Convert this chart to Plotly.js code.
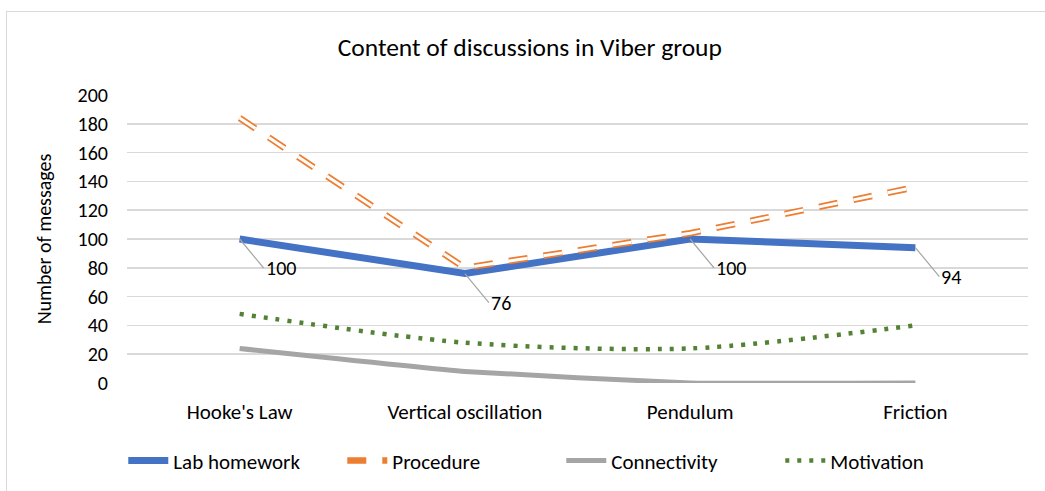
<!DOCTYPE html>
<html>
<head>
<meta charset="utf-8">
<script src="https://cdn.plot.ly/plotly-3.0.1.min.js"></script>
<style>
  html, body { margin: 0; padding: 0; background: #fff; overflow: hidden; }
  #frame { position: absolute; left: 6px; top: 11px; width: 1100px; height: 600px; border: 1px solid #d9d9d9; box-sizing: border-box; }
  #chart { position: absolute; left: 0; top: 0; width: 1045px; height: 491px; }
</style>
</head>
<body>
<div id="frame"></div>
<div id="chart"></div>
<script>
const categories = ["Hooke's Law", "Vertical oscillation", "Pendulum", "Friction"];
const labHomework = [100, 76, 100, 94];
const procedure = [184, 80, 104, 136];
const connectivity = [24, 8, 0, 0];
const motivation = [48, 28, 24, 40];
const yTicks = [0, 20, 40, 60, 80, 100, 120, 140, 160, 180, 200];

const FONT = "Carlito, Calibri, Lato, 'Liberation Sans', sans-serif";

const traces = [
  { x: categories, y: labHomework, name: 'Lab homework', type: 'scatter', mode: 'lines',
    line: { color: '#4472c4', width: 7 } },
  { x: categories, y: procedure, name: 'Procedure', type: 'scatter', mode: 'lines',
    line: { color: '#ed7d31', width: 6.5, dash: '19px,16px' } },
  { x: categories, y: procedure, name: 'Procedure', type: 'scatter', mode: 'lines', showlegend: false, hoverinfo: 'skip',
    line: { color: '#ffffff', width: 3, dash: '19px,16px' } },
  { x: categories, y: connectivity, name: 'Connectivity', type: 'scatter', mode: 'lines',
    line: { color: '#a5a5a5', width: 5, shape: 'spline', smoothing: 0.3 } },
  { x: categories, y: motivation, name: 'Motivation', type: 'scatter', mode: 'lines',
    line: { color: '#548235', width: 4.5, dash: '4px,8px', shape: 'spline', smoothing: 0.8 } }
];

const annotations = categories.map((c, i) => ({
  x: c, y: labHomework[i], xref: 'x', yref: 'y',
  text: String(labHomework[i]), showarrow: true, arrowhead: 0, arrowwidth: 1.2,
  arrowcolor: '#a5a5a5', ax: 24, ay: 29, xanchor: 'left', standoff: 0,
  font: { family: FONT, size: 20, color: '#000' }
}));

const layout = {
  width: 1045, height: 491,
  paper_bgcolor: 'rgba(0,0,0,0)', plot_bgcolor: 'rgba(0,0,0,0)',
  margin: { l: 127, r: 17, t: 95, b: 108, autoexpand: false },
  title: { text: 'Content of discussions in Viber group', x: 0.507, xanchor: 'center', y: 0.905, yanchor: 'middle',
           font: { family: FONT, size: 25.5, color: '#000' } },
  xaxis: { type: 'category', range: [-0.5, 3.5], tickfont: { family: FONT, size: 21, color: '#000' },
           showgrid: false, showline: false, zeroline: false, ticks: '', ticklen: 0, ticklabelstandoff: 14 },
  yaxis: { range: [0, 200], tickvals: yTicks, ticktext: yTicks.map(String),
           tickfont: { family: FONT, size: 20, color: '#000' },
           gridcolor: '#d9d9d9', gridwidth: 1.5, zeroline: false, showline: false, ticks: '',
           ticklabelstandoff: 18,
           title: { text: 'Number of messages', font: { family: FONT, size: 20, color: '#000' }, standoff: 20 } },
  legend: { orientation: 'h', x: 0.482, xanchor: 'center', y: -0.27, yanchor: 'middle',
            font: { family: FONT, size: 21, color: '#000' }, itemwidth: 40, entrywidth: 164, entrywidthmode: 'pixels',
            tracegroupgap: 0 },
  annotations: annotations,
  showlegend: true
};

Plotly.newPlot('chart', traces, layout, { staticPlot: true, displayModeBar: false });
</script>
</body>
</html>
